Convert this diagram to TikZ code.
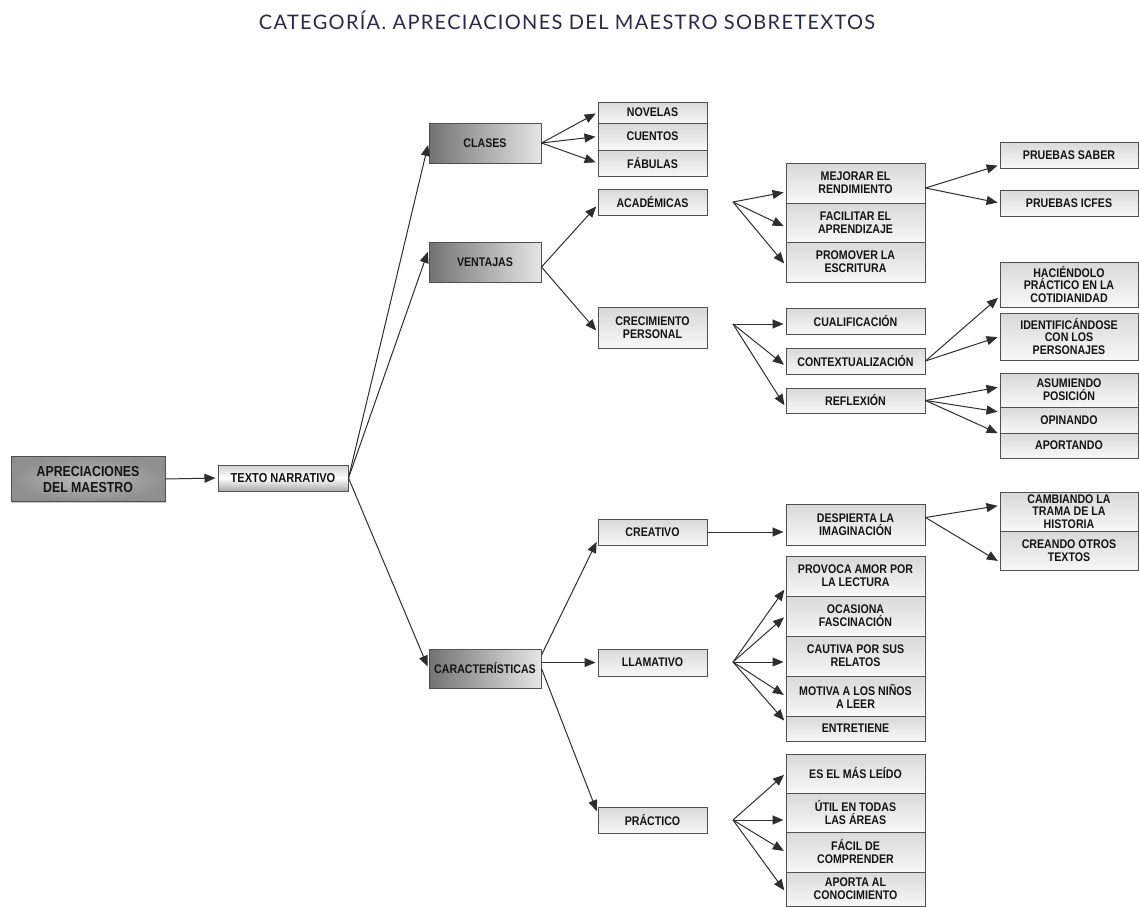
\documentclass[tikz,border=0pt]{standalone}
\usepackage{fontspec}
\newfontfamily\boxfont[FakeStretch=0.85]{Liberation Sans}
\newfontfamily\titlefont[LetterSpace=6.5]{Lato}
\usetikzlibrary{arrows.meta,shadows,calc}
\definecolor{titleblue}{HTML}{262A48}
\definecolor{edgec}{HTML}{505050}
\definecolor{linec}{HTML}{2E2E2E}
\tikzset{
 base/.style={draw=edgec, line width=1pt, inner xsep=1pt, inner ysep=0pt, align=center,
   font=\boxfont\bfseries\fontsize{12.5}{13}\selectfont, text=black!92,
   drop shadow={shadow xshift=1pt,shadow yshift=-1pt,fill=black!35,opacity=0.6}},
 dbox/.style={base, left color=black!55, right color=black!10},
 abox/.style={base, inner color=black!26, outer color=black!44, font=\boxfont\bfseries\fontsize{14.5}{16}\selectfont},
 tbox/.style={base, top color=black!18, bottom color=black!34, middle color=white, font=\boxfont\bfseries\fontsize{13}{14}\selectfont},
 lbox/.style={base, top color=black!15, bottom color=black!3},
 tight/.style={font=\boxfont\bfseries\fontsize{12.5}{12.5}\selectfont},
 arr/.style={draw=linec, line width=1pt, -{Triangle[length=11pt,width=9pt]}, shorten >=2pt},
}
\newcommand\mybox[6]{\node[#1, minimum width=#4pt, minimum height=#5pt] (#2) at (#3) {#6};}
\begin{document}
\begin{tikzpicture}[x=1pt,y=-1pt]
\useasboundingbox (0,0) rectangle (1139,906);
\node[font=\titlefont\fontsize{20}{23}\selectfont, text=titleblue] (title) at (567,20) {CATEGORÍA. APRECIACIONES DEL MAESTRO SOBRETEXTOS};
% left
\mybox{abox}{apre}{88,479}{154}{45}{APRECIACIONES\\DEL MAESTRO}
\mybox{tbox}{texto}{283,478}{130}{26}{TEXTO NARRATIVO}
\mybox{dbox}{clases}{485,143}{112}{40}{CLASES}
\mybox{dbox}{vent}{485,262}{112}{40}{VENTAJAS}
\mybox{dbox}{carac}{485,668.5}{112}{39}{CARACTERÍSTICAS}
% column B
\mybox{lbox}{nov}{652.5,112.5}{109}{21}{NOVELAS}
\mybox{lbox}{cue}{652.5,136.5}{109}{27}{CUENTOS}
\mybox{lbox}{fab}{652.5,163}{109}{26}{FÁBULAS}
\mybox{lbox}{aca}{652.5,202}{109}{26}{ACADÉMICAS}
\mybox{lbox}{cre}{652.5,327.5}{109}{41}{CRECIMIENTO\\PERSONAL}
\mybox{lbox}{crea}{652.5,532}{109}{26}{CREATIVO}
\mybox{lbox}{llam}{652.5,662.5}{109}{27}{LLAMATIVO}
\mybox{lbox}{prac}{652.5,820}{109}{26}{PRÁCTICO}
% column C
\mybox{lbox}{mej}{855.5,183}{139}{40}{MEJORAR EL\\RENDIMIENTO}
\mybox{lbox}{fac}{855.5,222.5}{139}{39}{FACILITAR EL\\APRENDIZAJE}
\mybox{lbox}{pro}{855.5,262}{139}{40}{PROMOVER LA\\ESCRITURA}
\mybox{lbox}{cua}{855.5,321}{139}{26}{CUALIFICACIÓN}
\mybox{lbox}{con}{855.5,361}{139}{26}{CONTEXTUALIZACIÓN}
\mybox{lbox}{ref}{855.5,400.5}{139}{25}{REFLEXIÓN}
\mybox{lbox}{des}{855.5,524.5}{139}{41}{DESPIERTA LA\\IMAGINACIÓN}
\mybox{lbox}{prov}{855.5,576}{139}{40}{PROVOCA AMOR POR\\LA LECTURA}
\mybox{lbox}{oca}{855.5,616}{139}{40}{OCASIONA\\FASCINACIÓN}
\mybox{lbox}{cau}{855.5,656}{139}{40}{CAUTIVA POR SUS\\RELATOS}
\mybox{lbox}{mot}{855.5,696}{139}{40}{MOTIVA A LOS NIÑOS\\A LEER}
\mybox{lbox}{ent}{855.5,728.5}{139}{25}{ENTRETIENE}
\mybox{lbox}{esel}{855.5,773.5}{139}{39}{ES EL MÁS LEÍDO}
\mybox{lbox}{util}{855.5,812.5}{139}{39}{ÚTIL EN TODAS\\LAS ÁREAS}
\mybox{lbox}{facil}{855.5,852}{139}{40}{FÁCIL DE\\COMPRENDER}
\mybox{lbox}{apo}{855.5,889}{139}{34}{APORTA AL\\CONOCIMIENTO}
% column D
\mybox{lbox}{sab}{1069,155}{138}{26}{PRUEBAS SABER}
\mybox{lbox}{icf}{1069,203}{138}{26}{PRUEBAS ICFES}
\mybox{lbox,tight}{hac}{1069,284.5}{138}{45}{HACIÉNDOLO\\PRÁCTICO EN LA\\COTIDIANIDAD}
\mybox{lbox,tight}{ide}{1069,336.5}{138}{47}{IDENTIFICÁNDOSE\\CON LOS\\PERSONAJES}
\mybox{lbox}{asu}{1069,390}{138}{34}{ASUMIENDO\\POSICIÓN}
\mybox{lbox}{opi}{1069,420}{138}{26}{OPINANDO}
\mybox{lbox}{apt}{1069,445.5}{138}{25}{APORTANDO}
\mybox{lbox,tight}{cam}{1069,511.5}{138}{39}{CAMBIANDO LA\\TRAMA DE LA\\HISTORIA}
\mybox{lbox}{crean}{1069,550.5}{138}{39}{CREANDO OTROS\\TEXTOS}
% fan origins
\coordinate (acaF) at (733,202);
\coordinate (creF) at (733,324);
\coordinate (llamF) at (733,662);
\coordinate (pracF) at (733,820);
% connectors
\draw[arr] (apre.east) -- (texto.west);
\draw[arr] (texto.east) -- (clases.west);
\draw[arr] (texto.east) -- ([yshift=12pt]vent.west);
\draw[arr] (texto.east) -- (carac.west);
\draw[arr] (clases.east) -- (nov.west);
\draw[arr] (clases.east) -- (cue.west);
\draw[arr] (clases.east) -- (fab.west);
\draw[arr] ([yshift=-5pt]vent.east) -- ([yshift=-3pt]aca.west);
\draw[arr] ([yshift=-5pt]vent.east) -- ([yshift=-4.5pt]cre.west);
\draw[arr] (acaF) -- ([yshift=-9pt]mej.west);
\draw[arr] (acaF) -- ([yshift=-4.5pt]fac.west);
\draw[arr] (acaF) -- ([yshift=-3pt]pro.west);
\draw[arr] ([yshift=-5pt]mej.east) -- ([yshift=-10pt]sab.west);
\draw[arr] ([yshift=-5pt]mej.east) -- (icf.west);
\draw[arr] (creF) -- ([yshift=-3pt]cua.west);
\draw[arr] (creF) -- ([yshift=-5pt]con.west);
\draw[arr] (creF) -- ([yshift=-6.5pt]ref.west);
\draw[arr] (con.east) -- ([yshift=-12pt]hac.west);
\draw[arr] (con.east) -- (ide.west);
\draw[arr] (ref.east) -- ([yshift=3pt]asu.west);
\draw[arr] (ref.east) -- ([yshift=8pt]opi.west);
\draw[arr] (ref.east) -- ([yshift=11.5pt]apt.west);
\draw[arr] ([yshift=13.5pt]carac.east) -- ([yshift=-8pt]crea.west);
\draw[arr] ([yshift=6pt]carac.east) -- (llam.west);
\draw[arr] (carac.east) -- ([yshift=7pt]prac.west);
\draw[arr] (crea.east) -- (crea.east -| des.west);
\draw[arr] ([yshift=7pt]des.east) -- ([yshift=6pt]cam.west);
\draw[arr] ([yshift=7pt]des.east) -- ([yshift=-11.5pt]crean.west);
\draw[arr] (llamF) -- ([yshift=-12pt]prov.west);
\draw[arr] (llamF) -- (oca.west);
\draw[arr] (llamF) -- ([yshift=-6pt]cau.west);
\draw[arr] (llamF) -- (mot.west);
\draw[arr] (llamF) -- ([yshift=6.5pt]ent.west);
\draw[arr] (pracF) -- (esel.west);
\draw[arr] (pracF) -- ([yshift=-7.5pt]util.west);
\draw[arr] (pracF) -- (facil.west);
\draw[arr] (pracF) -- ([yshift=-3pt]apo.west);
\end{tikzpicture}
\end{document}
